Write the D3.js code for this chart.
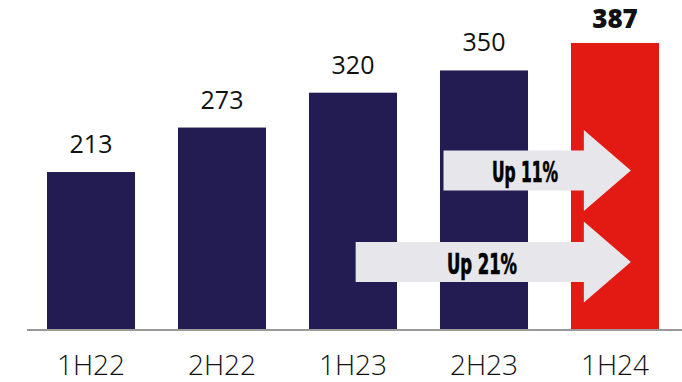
<!DOCTYPE html>
<html><head><meta charset="utf-8">
<script src="https://cdn.jsdelivr.net/npm/d3@7"></script>
<style>html,body{margin:0;padding:0;background:#fff;}svg{display:block;}</style>
</head><body>
<svg id="chart" width="682" height="382"></svg>
<script>
const categories = ["1H22", "2H22", "1H23", "2H23", "1H24"];
const values = [213, 273, 320, 350, 387];
const highlight = ["1H24"];
const arrowLabels = ["Up 11%", "Up 21%"];
const arrowFrom = ["2H23", "1H23"];
const arrowTo = ["1H24", "1H24"];

const W = 682, H = 382;
const svg = d3.select("#chart");
const x = d3.scaleBand().domain(categories).range([25.5, 680.5]).paddingInner(0.328).paddingOuter(0.164);
const y = d3.scaleLinear().domain([0, 387]).range([330, 43]);
const navy = "#221C52", red = "#E31A13", grey = "#E7E6EB";

svg.selectAll("rect.bar").data(categories).enter().append("rect")
  .attr("class", "bar")
  .attr("x", d => x(d)).attr("width", x.bandwidth())
  .attr("y", (d, i) => y(values[i])).attr("height", (d, i) => y(0) - y(values[i]))
  .attr("fill", d => highlight.includes(d) ? red : navy);

svg.selectAll("text.val").data(categories).enter().append("text")
  .attr("class", "val")
  .attr("x", d => x(d) + x.bandwidth() / 2)
  .attr("y", (d, i) => y(values[i]) - (highlight.includes(d) ? 15 : 19))
  .attr("text-anchor", "middle")
  .attr("font-family", "'Open Sans', sans-serif")
  .attr("font-size", d => highlight.includes(d) ? 26 : 25)
  .attr("font-weight", d => highlight.includes(d) ? 800 : 400)
  .attr("fill", "#111")
  .text((d, i) => values[i]);

// axis
const axis = svg.append("g").attr("transform", `translate(0,${y(0)})`)
  .call(d3.axisBottom(x).tickSize(0));
axis.select(".domain").attr("d", `M27,0H682`).attr("stroke", "#9a9a9a").attr("stroke-width", 2);
axis.selectAll("text").attr("font-family", "'Open Sans', sans-serif").attr("font-size", 28)
  .attr("font-weight", 300).attr("fill", "#111").attr("y", 45).attr("dy", 0);

// arrows
const arrowCY = [170.5, 262];
const arrowStartOffset = [0.04, 0.53];
arrowLabels.forEach((lab, i) => {
  const x0 = x(arrowFrom[i]) + x.bandwidth() * arrowStartOffset[i];
  const tip = x(arrowTo[i]) + x.bandwidth() * 0.68;
  const headX = tip - 47;
  const cy = arrowCY[i];
  const bh = 20, hh = 40.5;
  const p = d3.path();
  p.moveTo(x0, cy - bh); p.lineTo(headX, cy - bh); p.lineTo(headX, cy - hh);
  p.lineTo(tip, cy); p.lineTo(headX, cy + hh); p.lineTo(headX, cy + bh);
  p.lineTo(x0, cy + bh); p.closePath();
  svg.append("path").attr("d", p.toString()).attr("fill", grey);
  const tx = i === 0 ? 525 : 482;
  svg.append("text").attr("x", tx).attr("y", cy + 11.5)
    .attr("text-anchor", "middle")
    .attr("font-family", "'Liberation Sans Narrow', 'DejaVu Sans Condensed', sans-serif")
    .attr("font-weight", 700).attr("font-size", 29)
    .attr("stroke", "#000").attr("stroke-width", 0.7)
    .attr("textLength", i === 0 ? 66 : 70).attr("lengthAdjust", "spacingAndGlyphs")
    .attr("fill", "#000").text(lab);
});
</script>
</body></html>
